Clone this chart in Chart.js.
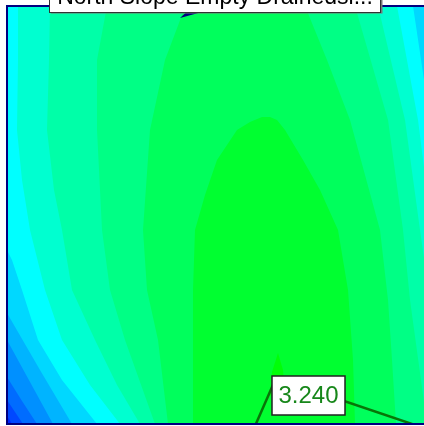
<!DOCTYPE html>
<html>
<head>
<meta charset="utf-8">
<script src="https://cdn.jsdelivr.net/npm/chart.js@4.4.0/dist/chart.umd.min.js"></script>
<style>
html, body { margin: 0; padding: 0; background: #fff; }
#frame { width: 424px; height: 426px; overflow: hidden; }
#wrap { width: 440px; height: 426px; }
</style>
</head>
<body>
<div id="frame"><div id="wrap"><canvas id="fsChart"></canvas></div></div>
<script>
// safety factor contour bands, outlines as [x, depth] (outer band first)
var bandColors = ['#0024ff', '#0048ff', '#006cff', '#0090ff', '#00b4ff', '#00d8ff', '#00ffff',
                  '#00ffd0', '#00ffa8', '#00ff85', '#00ff5c', '#00ff30', '#00ff08'];
var band0 = [[-40, -10], [520, -10], [520, 440], [-40, 440]];
var band1 = [[-40, -10], [-40, 399], [0, 410], [5, 418], [8, 440], [520, 440], [520, -10]];
var band2 = [[-40, -10], [-40, 384], [0, 394], [8, 406], [16, 418], [19, 440], [520, 440], [520, -10]];
var band3 = [[-40, -10], [-40, 359], [0, 371], [15, 395], [30, 418], [33, 440], [520, 440], [520, -10]];
var band4 = [[-40, -10], [-40, 322], [0, 334], [23, 376], [46, 418], [50, 440], [520, 440], [520, -10]];
var band5 = [[-40, -10], [-40, 294], [0, 307], [33, 364], [65, 418], [69, 440], [520, 440], [520, -10]];
var band6 = [[-40, -10], [-40, 234], [0, 244], [5, 254], [15, 284], [31, 334], [55, 374], [90, 418], [95, 440],
             [480, 440], [423, 114], [406, 0], [404, -10]];
var band7 = [[11, -10], [11, 0], [11, 54], [10, 124], [15, 174], [23, 224], [38, 284], [55, 334], [83, 379],
             [113, 418], [118, 440], [453, 440], [425, 224], [411, 114], [390, 0], [389, -10]];
var band8 = [[43, -10], [43, 0], [42, 54], [40, 124], [47, 184], [55, 224], [65, 284], [88, 334], [110, 379],
             [133, 418], [137, 440], [440, 440], [438, 418], [423, 294], [413, 224], [398, 114], [371, 0], [370, -10]];
var band9 = [[101, -10], [100, 0], [90, 54], [90, 124], [95, 224], [103, 284], [118, 334], [148, 418], [151, 440],
             [425, 440], [420, 418], [403, 294], [396, 224], [381, 114], [348, 0], [347, -10]];
var band10 = [[181, -10], [179, 0], [175, 9], [158, 54], [143, 124], [136, 224], [140, 284], [151, 334], [161, 418],
              [162, 440], [390, 440], [389, 418], [385, 354], [381, 294], [373, 224], [343, 114], [320, 54], [298, 0], [297, -10]];
var band11 = [[255, 111], [243, 116], [230, 124], [210, 154], [198, 189], [188, 224], [186, 284], [186, 418], [186, 440],
              [348, 440], [348, 418], [346, 354], [341, 284], [331, 224], [313, 184], [296, 154], [278, 124], [270, 114], [263, 111]];
var band12 = [[271, 347], [276, 364], [278, 389], [272, 399], [263, 389], [265, 366]];
var bands = [band0, band1, band2, band3, band4, band5, band6, band7, band8, band9, band10, band11, band12];

var centerMark = [[173, 12], [184, 2], [206, 3]];
var minPoint = [269, 372];
var minLabel = '3.240';
var slipEnds = [[248, 420], [411, 420]];
var titleText = 'North Slope Empty Drainedsl...';

function toXY(pts) {
    return pts.map(function (p) { return { x: p[0], y: p[1] }; });
}

var datasets = [];
bands.forEach(function (pts, i) {
    datasets.push({
        data: toXY(pts),
        showLine: true,
        fill: 'shape',
        backgroundColor: bandColors[i],
        borderWidth: 0,
        pointRadius: 0,
        order: 100 - i
    });
});
datasets.push({
    data: toXY(centerMark),
    showLine: true,
    fill: 'shape',
    backgroundColor: '#000080',
    borderWidth: 0,
    pointRadius: 0,
    order: 3
});
slipEnds.forEach(function (end) {
    datasets.push({
        data: toXY([minPoint, end]),
        showLine: true,
        fill: false,
        borderColor: '#087508',
        borderWidth: 2.5,
        pointRadius: 0,
        order: 1
    });
});

var framePlugin = {
    id: 'frame',
    afterDatasetsDraw: function (chart) {
        var a = chart.chartArea, ctx = chart.ctx;
        ctx.save();
        ctx.strokeStyle = '#000080';
        ctx.lineWidth = 2;
        ctx.strokeRect(a.left, a.top, a.right - a.left, a.bottom - a.top);
        ctx.restore();
    },
    afterDraw: function (chart) {
        var ctx = chart.ctx;
        var px = chart.scales.x.getPixelForValue(minPoint[0]);
        var py = chart.scales.y.getPixelForValue(minPoint[1]);
        ctx.save();
        // min label
        ctx.fillStyle = '#fff';
        ctx.fillRect(px - 4, py - 2, 73, 39);
        ctx.strokeStyle = '#222';
        ctx.lineWidth = 1.5;
        ctx.strokeRect(px - 4, py - 2, 73, 39);
        ctx.fillStyle = '#17871a';
        ctx.font = '24px "Liberation Sans", Arial, sans-serif';
        ctx.textAlign = 'center';
        ctx.textBaseline = 'middle';
        ctx.fillText(minLabel, px + 32.5, py + 18.5);
        // title box
        ctx.fillStyle = '#777';
        ctx.fillRect(51, -20, 331.5, 33.5);
        ctx.fillStyle = '#fff';
        ctx.fillRect(49.5, -20, 331, 32.5);
        ctx.strokeStyle = '#333';
        ctx.lineWidth = 1;
        ctx.strokeRect(49.5, -20, 331, 32.5);
        ctx.fillStyle = '#000';
        ctx.font = '23px "Liberation Sans", Arial, sans-serif';
        ctx.textBaseline = 'alphabetic';
        ctx.fillText(titleText, 215, 4);
        ctx.restore();
    }
};

new Chart(document.getElementById('fsChart'), {
    type: 'scatter',
    data: { datasets: datasets },
    options: {
        responsive: true,
        maintainAspectRatio: false,
        animation: false,
        layout: { padding: { left: 7, top: 6, right: 8, bottom: 2 } },
        scales: {
            x: { type: 'linear', min: 0, max: 425, display: false },
            y: { type: 'linear', min: 0, max: 418, reverse: true, display: false }
        },
        plugins: { legend: { display: false }, tooltip: { enabled: false } }
    },
    plugins: [framePlugin]
});
</script>
</body>
</html>
